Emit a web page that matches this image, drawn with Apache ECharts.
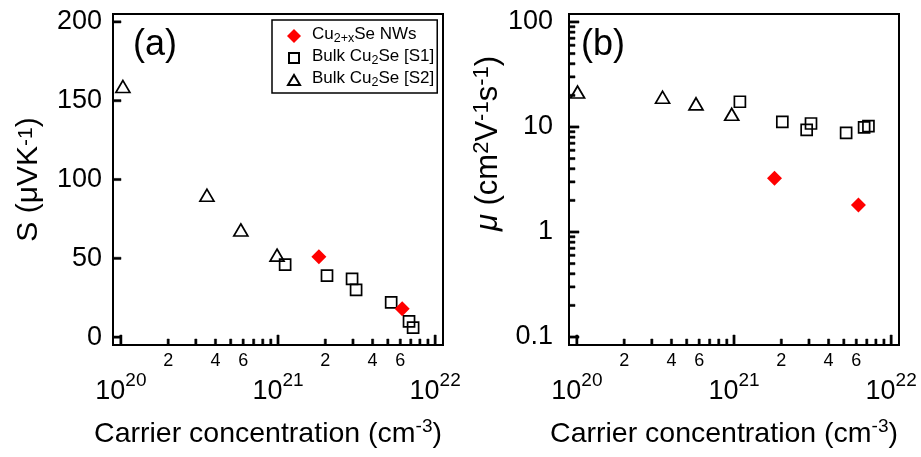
<!DOCTYPE html>
<html><head><meta charset="utf-8">
<script src="https://cdn.jsdelivr.net/npm/echarts@6/dist/echarts.min.js"></script>
<style>html,body{margin:0;padding:0;background:#fff}#c{width:921px;height:457px}</style>
</head><body><div id="c"></div>
<script>
// ---------- data ----------
const seriesNames = ['Cu2+xSe NWs', 'Bulk Cu2Se [S1]', 'Bulk Cu2Se [S2]'];
const legendLabels = ['{sp| }{n|Cu}{sub|2+x}{n|Se NWs}', '{sp| }{n|Bulk Cu}{sub|2}{n|Se [S1]}', '{sp| }{n|Bulk Cu}{sub|2}{n|Se [S2]}'];

// panel (a): Seebeck coefficient vs carrier concentration
const nwConcA = [1.82e21, 6.17e21];
const nwSeebeck = [51, 18];
const s1ConcA = [1.11e21, 2.05e21, 2.96e21, 3.14e21, 5.25e21, 6.82e21, 7.24e21];
const s1Seebeck = [46, 39, 37, 30, 22, 10, 6];
const s2ConcA = [1.03e20, 3.53e20, 5.8e20, 9.86e20];
const s2Seebeck = [159, 90, 68, 52];

// panel (b): mobility vs carrier concentration
const nwConcB = [1.81e21, 6.19e21];
const nwMobility = [3.25, 1.81];
const s1ConcB = [1.09e21, 2.03e21, 2.9e21, 3.09e21, 5.17e21, 6.73e21, 7.17e21];
const s1Mobility = [17.4, 11.2, 9.4, 10.8, 8.8, 9.9, 10.2];
const s2ConcB = [1.01e20, 3.51e20, 5.73e20, 9.67e20];
const s2Mobility = [21.5, 19.2, 16.6, 13.2];

// ticks
const concDecades = [1e20, 1e21, 1e22];
const concDecadeExp = ['20', '21', '22'];
const concMinorTicks = [2e20, 3e20, 4e20, 5e20, 6e20, 7e20, 8e20, 9e20, 2e21, 3e21, 4e21, 5e21, 6e21, 7e21, 8e21, 9e21];
const concMinorLabels = ['2', '', '4', '', '6', '', '', '', '2', '', '4', '', '6', '', '', ''];
const seebeckTicks = [0, 50, 100, 150, 200];
const mobilityTicks = [0.1, 1, 10, 100];
const mobilityTickLabels = ['0.1', '1', '10', '100'];
const mobilityMinorTicks = [0.2, 0.3, 0.4, 0.5, 0.6, 0.7, 0.8, 0.9, 2, 3, 4, 5, 6, 7, 8, 9, 20, 30, 40, 50, 60, 70, 80, 90];

// ---------- chart ----------
const FONT = '"Liberation Sans", Arial, Helvetica, sans-serif';
const chart = echarts.init(document.getElementById('c'), null, {renderer: 'canvas'});

const zip = (a, b) => a.map((v, i) => [v, b[i]]);
const hollow = {color: 'rgba(255,255,255,0)', borderColor: '#000', borderWidth: 1.7, opacity: 1};
const solidRed = {color: '#ff0000', opacity: 1};
const TW = 2.2; // tick thickness

function decadeIndex(v) {
  return concDecades.findIndex(d => Math.abs(Math.log10(v) - Math.log10(d)) < 1e-6);
}

function xAxisDef(idx) {
  return {
    type: 'log', gridIndex: idx, min: 8.91e19, max: 1.122e22,
    axisLine: {show: true, onZero: false, lineStyle: {color: '#000', width: 2}},
    axisTick: {show: false},
    splitLine: {show: false},
    axisLabel: {
      margin: 26, color: '#000', fontFamily: FONT,
      formatter: v => { const k = decadeIndex(v); return k >= 0 ? '{b|10}{s|' + concDecadeExp[k] + '}' : ''; },
      rich: {
        b: {fontSize: 27, lineHeight: 27, padding: [14, 0, 0, 0], fontFamily: FONT, color: '#000'},
        s: {fontSize: 19, lineHeight: 19, verticalAlign: 'top', fontFamily: FONT, color: '#000'}
      }
    },
    name: '{n|Carrier concentration (cm}{sup|-3}{n|)}',
    nameLocation: 'middle', nameGap: 72,
    nameTextStyle: {
      padding: [0, 20, 0, 0],
      rich: {
        n: {fontSize: 28.5, lineHeight: 30, padding: [4, 0, 0, 0], fontFamily: FONT, color: '#000'},
        sup: {fontSize: 19, lineHeight: 19, verticalAlign: 'top', fontFamily: FONT, color: '#000'}
      }
    }
  };
}

// tick marks along the bottom x axis, drawn through the axis scale
function xTickSeries(gi, vals, len, labels, refY) {
  return {
    type: 'custom', xAxisIndex: gi, yAxisIndex: gi, silent: true, clip: false, z: 10,
    data: vals.map((v, i) => [v, i]),
    renderItem: (params, api) => {
      const cs = params.coordSys;
      const x = api.coord([api.value(0), refY])[0];
      const yb = cs.y + cs.height;
      const children = [{type: 'rect', z2: 100, shape: {x: x - TW / 2, y: yb - len, width: TW, height: len}, style: {fill: '#000', stroke: '#000', lineWidth: 0.5}}];
      const lab = labels ? labels[api.value(1)] : '';
      if (lab) children.push({type: 'text', style: {text: lab, x: x, y: yb + 7, align: 'center', verticalAlign: 'top', font: '18px ' + FONT, fill: '#000'}});
      return {type: 'group', children};
    }
  };
}
// tick marks along the left y axis
function yTickSeries(gi, vals, len, refX) {
  return {
    type: 'custom', xAxisIndex: gi, yAxisIndex: gi, silent: true, clip: false, z: 10,
    data: vals.map(v => [refX, v]),
    renderItem: (params, api) => {
      const cs = params.coordSys;
      const y = api.coord([api.value(0), api.value(1)])[1];
      return {type: 'rect', z2: 100, shape: {x: cs.x, y: y - TW / 2, width: len, height: TW}, style: {fill: '#000', stroke: '#000', lineWidth: 0.5}};
    }
  };
}

const option = {
  backgroundColor: '#fff',
  animation: false,
  grid: [
    {left: 113, top: 14, width: 330, height: 331, show: true, borderColor: '#000', borderWidth: 2, backgroundColor: 'transparent'},
    {left: 569, top: 14, width: 330, height: 331, show: true, borderColor: '#000', borderWidth: 2, backgroundColor: 'transparent'}
  ],
  xAxis: [xAxisDef(0), xAxisDef(1)],
  yAxis: [
    {
      type: 'value', gridIndex: 0, min: -5, max: 205,
      axisLine: {show: true, lineStyle: {color: '#000', width: 2}},
      axisTick: {show: false},
      splitLine: {show: false},
      axisLabel: {margin: 11, fontSize: 27, fontFamily: FONT, color: '#000',
        formatter: v => seebeckTicks.indexOf(v) >= 0 ? String(v) : ''},
      name: '{n|S (\u03bcVK}{sm|-1}{n|)}',
      nameLocation: 'middle', nameGap: 68,
      nameTextStyle: {
        rich: {
          n: {fontSize: 30, lineHeight: 32, fontFamily: FONT, color: '#000'},
          sm: {fontSize: 21, lineHeight: 21, verticalAlign: 'top', padding: [3, 0, 0, 0], fontFamily: FONT, color: '#000'}
        }
      }
    },
    {
      type: 'log', gridIndex: 1, min: 0.08395, max: 119.1,
      axisLine: {show: true, lineStyle: {color: '#000', width: 2}},
      axisTick: {show: false},
      splitLine: {show: false},
      axisLabel: {margin: 16, fontSize: 27, fontFamily: FONT, color: '#000',
        formatter: v => { const k = mobilityTicks.findIndex(t => Math.abs(Math.log10(v) - Math.log10(t)) < 1e-6); return k >= 0 ? mobilityTickLabels[k] : ''; }},
      name: '{i|\u03bc}{n| (cm}{sup|2}{n|V}{sup|-1}{n|s}{sup|-1}{n|)}',
      nameLocation: 'middle', nameGap: 58,
      nameTextStyle: {
        padding: [0, 0, 0, 72],
        rich: {
          i: {fontSize: 31, lineHeight: 31, padding: [4, 0, 0, 0], fontStyle: 'italic', fontFamily: FONT, color: '#000'},
          n: {fontSize: 31, lineHeight: 31, padding: [4, 0, 0, 0], fontFamily: FONT, color: '#000'},
          sup: {fontSize: 22, lineHeight: 22, verticalAlign: 'top', fontFamily: FONT, color: '#000'}
        }
      }
    }
  ],
  legend: {
    left: 272, top: 20, orient: 'vertical',
    data: [
      {name: seriesNames[0], icon: 'diamond'},
      {name: seriesNames[1], icon: 'path://M0,0M14,14M2,2L12,2L12,12L2,12Z'},
      {name: seriesNames[2], icon: 'path://M0,0M14,14M1,12L13,12L7,2Z'}
    ],
    borderColor: '#000', borderWidth: 1.5, borderRadius: 0,
    padding: [6, 3, 3, 14], itemGap: 2, itemWidth: 14, itemHeight: 14,
    formatter: name => legendLabels[seriesNames.indexOf(name)],
    textStyle: {
      rich: {
        sp: {width: 6, fontSize: 17, lineHeight: 19, padding: [0, 0, 3, 0]},
        n: {fontSize: 17, lineHeight: 19, padding: [0, 0, 3, 0], fontFamily: FONT, color: '#000'},
        sub: {fontSize: 12.5, lineHeight: 13, verticalAlign: 'bottom', fontFamily: FONT, color: '#000'}
      }
    }
  },
  graphic: [
    {type: 'text', left: 133, top: 27, style: {text: '(a)', font: '36px ' + FONT, fill: '#000'}},
    {type: 'text', left: 581, top: 27, style: {text: '(b)', font: '36px ' + FONT, fill: '#000'}}
  ],
  series: [
    {name: seriesNames[1], type: 'scatter', xAxisIndex: 0, yAxisIndex: 0, symbol: 'rect', symbolSize: 11, itemStyle: hollow, data: zip(s1ConcA, s1Seebeck)},
    {name: seriesNames[2], type: 'scatter', xAxisIndex: 0, yAxisIndex: 0, symbol: 'triangle', symbolSize: [14, 12], itemStyle: hollow, data: zip(s2ConcA, s2Seebeck)},
    {name: seriesNames[0], type: 'scatter', xAxisIndex: 0, yAxisIndex: 0, symbol: 'diamond', symbolSize: 15, itemStyle: solidRed, data: zip(nwConcA, nwSeebeck)},
    {name: seriesNames[1], type: 'scatter', xAxisIndex: 1, yAxisIndex: 1, symbol: 'rect', symbolSize: 11, itemStyle: hollow, data: zip(s1ConcB, s1Mobility)},
    {name: seriesNames[2], type: 'scatter', xAxisIndex: 1, yAxisIndex: 1, symbol: 'triangle', symbolSize: [14, 12], itemStyle: hollow, data: zip(s2ConcB, s2Mobility)},
    {name: seriesNames[0], type: 'scatter', xAxisIndex: 1, yAxisIndex: 1, symbol: 'diamond', symbolSize: 15, itemStyle: solidRed, data: zip(nwConcB, nwMobility)},
    xTickSeries(0, concDecades, 10, null, 100),
    xTickSeries(0, concMinorTicks, 6, concMinorLabels, 100),
    xTickSeries(1, concDecades, 10, null, 1),
    xTickSeries(1, concMinorTicks, 6, concMinorLabels, 1),
    yTickSeries(0, seebeckTicks, 8, 1e21),
    yTickSeries(1, mobilityTicks, 10, 1e21),
    yTickSeries(1, mobilityMinorTicks, 6, 1e21)
  ]
};
chart.setOption(option);
</script></body></html>
